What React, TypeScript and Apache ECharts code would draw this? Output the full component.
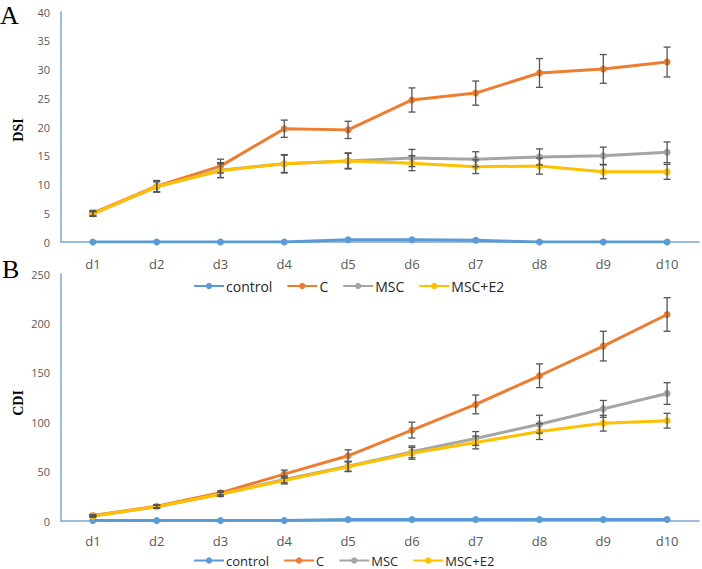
import React, { useEffect, useRef } from "react";
import * as echarts from "echarts";

const days = ["d1", "d2", "d3", "d4", "d5", "d6", "d7", "d8", "d9", "d10"];
const seriesNames = ["control", "C", "MSC", "MSC+E2"];
const colors = ["#5B9BD5", "#ED7D31", "#A5A5A5", "#FFC000"];

// Panel A: DSI
const dsiControl = [0, 0, 0, 0, 0.4, 0.4, 0.3, 0, 0, 0];
const dsiC = [5.0, 9.7, 13.2, 19.7, 19.5, 24.7, 25.9, 29.4, 30.1, 31.3];
const dsiCErr = [0.5, 1.0, 1.2, 1.5, 1.5, 2.1, 2.1, 2.5, 2.5, 2.6];
const dsiMSC = [4.9, 9.6, 12.5, 13.6, 14.1, 14.6, 14.4, 14.8, 15.0, 15.6];
const dsiMSCErr = [0.4, 0.9, 1.3, 1.5, 1.4, 1.5, 1.3, 1.4, 1.5, 1.8];
const dsiE2 = [4.9, 9.6, 12.4, 13.6, 14.1, 13.7, 13.1, 13.2, 12.2, 12.2];
const dsiE2Err = [0.4, 0.9, 1.2, 1.6, 1.3, 1.3, 1.2, 1.4, 1.2, 1.3];

// Panel B: CDI
const cdiControl = [0.5, 0.5, 0.5, 0.5, 1.5, 1.5, 1.5, 1.5, 1.5, 1.5];
const cdiC = [5.5, 15, 28.5, 47.5, 66, 92, 118, 147, 177, 209];
const cdiCErr = [1, 1.5, 2, 4, 6, 8, 9.5, 12, 15, 17];
const cdiMSC = [5, 14.5, 27, 42, 55.5, 70, 83.5, 98, 113.5, 129];
const cdiMSCErr = [1, 1.5, 2, 3.5, 5, 6, 7, 9, 8.5, 11];
const cdiE2 = [5, 14.5, 27, 41, 55, 68.5, 79.5, 90.5, 99, 101.5];
const cdiE2Err = [1, 1.5, 2, 3.5, 5, 6, 6.5, 8, 8, 7.5];

const axisBlue = "#7EA6CF";
const labelGray = "#595959";
const font = "'Open Sans', 'Noto Sans', sans-serif";

function errorSeries(vals: number[], errs: number[], gi: number) {
  return {
    type: "custom",
    xAxisIndex: gi,
    yAxisIndex: gi,
    z: 5,
    silent: true,
    data: vals.map((v, i) => [i, v - errs[i], v + errs[i]]),
    encode: { x: 0, y: [1, 2] },
    renderItem: (params: any, api: any) => {
      const x = api.value(0);
      const lo = api.coord([x, api.value(1)]);
      const hi = api.coord([x, api.value(2)]);
      const w = 3.5;
      const style = { stroke: "#555555", lineWidth: 1.3 };
      return {
        type: "group",
        children: [
          { type: "line", shape: { x1: lo[0], y1: lo[1], x2: hi[0], y2: hi[1] }, style },
          { type: "line", shape: { x1: lo[0] - w, y1: lo[1], x2: lo[0] + w, y2: lo[1] }, style },
          { type: "line", shape: { x1: hi[0] - w, y1: hi[1], x2: hi[0] + w, y2: hi[1] }, style },
        ],
      };
    },
  };
}

function lineSeries(name: string, data: number[], ci: number, gi: number) {
  return {
    type: "line",
    name,
    data,
    xAxisIndex: gi,
    yAxisIndex: gi,
    symbol: "circle",
    symbolSize: 7,
    z: 3 + ci * 0.1,
    lineStyle: { color: colors[ci], width: 3 },
    itemStyle: { color: colors[ci] },
  };
}

export default function App() {
  const ref = useRef<HTMLDivElement>(null);
  useEffect(() => {
    if (!ref.current) return;
    const chart = echarts.init(ref.current, undefined, { renderer: "svg" });
    const xAxisBase = (gi: number, margin: number) => ({
      type: "category",
      gridIndex: gi,
      data: days,
      boundaryGap: true,
      axisTick: { show: false },
      axisLine: { lineStyle: { color: axisBlue, width: 1.5 } },
      axisLabel: { color: labelGray, fontSize: 13, fontFamily: font, margin },
    });
    const yAxisBase = (gi: number, max: number, interval: number) => ({
      type: "value",
      gridIndex: gi,
      min: 0,
      max,
      interval,
      axisLine: { show: true, lineStyle: { color: axisBlue, width: 1.5 } },
      axisTick: { show: false },
      splitLine: { show: false },
      axisLabel: { color: labelGray, fontSize: 11, fontFamily: font, margin: 11 },
    });
    const legendBase = (top: number, fontSize: number) => ({
      left: 193,
      top,
      padding: 0,
      data: seriesNames,
      itemWidth: 30,
      itemHeight: 8,
      itemGap: 14,
      textStyle: { color: "#262626", fontSize, fontFamily: font, padding: [0, 0, 0, -3] },
    });
    chart.setOption({
      animation: false,
      grid: [
        { left: 61, right: 3, top: 12, height: 230 },
        { left: 61, right: 3, top: 274, height: 247 },
      ],
      xAxis: [xAxisBase(0, 15), xAxisBase(1, 13)],
      yAxis: [yAxisBase(0, 40, 5), yAxisBase(1, 250, 50)],
      legend: [legendBase(279, 14), legendBase(554, 13)],
      graphic: [
        { type: "text", left: 0, top: 2, style: { text: "A", font: "26px 'Liberation Serif', serif", fill: "#000" } },
        { type: "text", left: 2, top: 256, style: { text: "B", font: "26px 'Liberation Serif', serif", fill: "#000" } },
        {
          type: "text",
          x: 18,
          y: 130,
          rotation: Math.PI / 2,
          style: { text: "DSI", font: "bold 14px 'Liberation Serif', serif", fill: "#000", align: "center", verticalAlign: "middle" },
        },
        {
          type: "text",
          x: 18,
          y: 403,
          rotation: Math.PI / 2,
          style: { text: "CDI", font: "bold 14px 'Liberation Serif', serif", fill: "#000", align: "center", verticalAlign: "middle" },
        },
      ],
      series: [
        lineSeries("control", dsiControl, 0, 0),
        lineSeries("C", dsiC, 1, 0),
        lineSeries("MSC", dsiMSC, 2, 0),
        lineSeries("MSC+E2", dsiE2, 3, 0),
        errorSeries(dsiC, dsiCErr, 0),
        errorSeries(dsiMSC, dsiMSCErr, 0),
        errorSeries(dsiE2, dsiE2Err, 0),
        lineSeries("control", cdiControl, 0, 1),
        lineSeries("C", cdiC, 1, 1),
        lineSeries("MSC", cdiMSC, 2, 1),
        lineSeries("MSC+E2", cdiE2, 3, 1),
        errorSeries(cdiC, cdiCErr, 1),
        errorSeries(cdiMSC, cdiMSCErr, 1),
        errorSeries(cdiE2, cdiE2Err, 1),
      ],
    });
    return () => chart.dispose();
  }, []);
  return <div ref={ref} style={{ width: 702, height: 569, position: "absolute", left: 0, top: 0, background: "#fff" }} />;
}
